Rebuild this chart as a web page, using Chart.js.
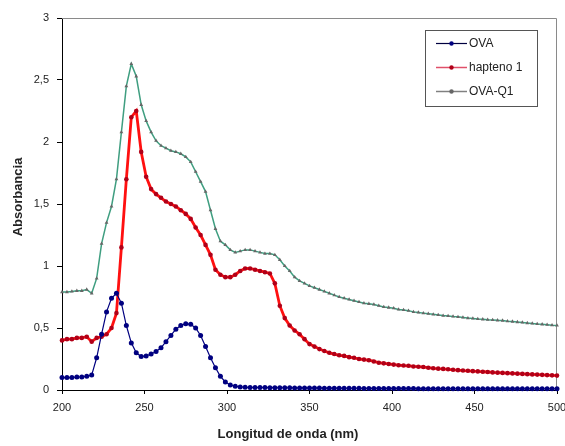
<!DOCTYPE html>
<html><head><meta charset="utf-8">
<script src="https://cdn.jsdelivr.net/npm/chart.js@4.4.1/dist/chart.umd.min.js"></script>
<style>html,body{margin:0;padding:0;background:#fff}#wrap{width:565px;height:446px;position:relative}</style>
</head><body><div id="wrap"><canvas id="c" width="565" height="446" style="width:565px;height:446px"></canvas></div>
<script>
const wavelengths = [200,203,206,209,212,215,218,221,224,227,230,233,236,239,242,245,248,251,254,257,
260,263,266,269,272,275,278,281,284,287,290,293,296,299,302,305,308,311,314,317,
320,323,326,329,332,335,338,341,344,347,350,353,356,359,362,365,368,371,374,377,
380,383,386,389,392,395,398,401,404,407,410,413,416,419,422,425,428,431,434,437,
440,443,446,449,452,455,458,461,464,467,470,473,476,479,482,485,488,491,494,497,500];

const ova = [0.10,0.10,0.10,0.105,0.105,0.11,0.12,0.26,0.45,0.63,
0.74,0.78,0.70,0.52,0.38,0.30,0.27,0.275,0.29,0.31,
0.34,0.39,0.44,0.49,0.52,0.535,0.53,0.50,0.44,0.35,
0.26,0.18,0.11,0.065,0.04,0.03,0.025,0.022,0.02,0.02,
0.02,0.02,0.019,0.019,0.018,0.018,0.018,0.017,0.017,0.017,
0.016,0.016,0.016,0.015,0.015,0.015,0.015,0.014,0.014,0.014,
0.014,0.013,0.013,0.013,0.013,0.013,0.012,0.012,0.012,0.012,
0.012,0.012,0.011,0.011,0.011,0.011,0.011,0.011,0.011,0.010,
0.010,0.010,0.010,0.010,0.010,0.010,0.010,0.010,0.010,0.010,
0.010,0.010,0.010,0.010,0.010,0.010,0.010,0.010,0.010,0.010,0.010];

const hapteno1 = [0.40,0.41,0.41,0.42,0.42,0.43,0.39,0.42,0.43,0.45,
0.50,0.62,1.15,1.70,2.20,2.25,1.92,1.72,1.62,1.58,
1.55,1.52,1.50,1.48,1.45,1.42,1.38,1.31,1.25,1.17,
1.09,0.97,0.93,0.91,0.91,0.93,0.96,0.98,0.98,0.97,
0.96,0.95,0.94,0.86,0.68,0.58,0.52,0.48,0.45,0.41,
0.37,0.35,0.33,0.315,0.30,0.29,0.28,0.275,0.265,0.26,
0.25,0.245,0.24,0.23,0.22,0.215,0.21,0.205,0.20,0.197,
0.195,0.19,0.188,0.185,0.18,0.175,0.172,0.17,0.167,0.163,
0.16,0.157,0.155,0.152,0.15,0.147,0.145,0.142,0.14,0.138,
0.136,0.134,0.132,0.13,0.128,0.126,0.124,0.122,0.12,0.118,0.116];

const ovaQ1 = [0.79,0.79,0.795,0.80,0.80,0.81,0.78,0.90,1.18,1.35,
1.48,1.70,2.08,2.45,2.63,2.53,2.30,2.17,2.08,2.01,
1.97,1.95,1.93,1.92,1.905,1.88,1.84,1.76,1.68,1.60,
1.45,1.30,1.20,1.17,1.13,1.11,1.12,1.13,1.13,1.12,
1.11,1.10,1.10,1.09,1.05,1.00,0.96,0.91,0.88,0.86,
0.84,0.825,0.81,0.795,0.78,0.765,0.75,0.74,0.73,0.72,
0.71,0.70,0.695,0.69,0.68,0.67,0.665,0.66,0.65,0.645,
0.64,0.63,0.625,0.62,0.615,0.61,0.605,0.60,0.597,0.593,
0.59,0.585,0.58,0.577,0.573,0.57,0.567,0.565,0.562,0.56,
0.555,0.552,0.548,0.545,0.54,0.537,0.533,0.53,0.527,0.523,0.52];

const seriesNames = ['OVA','hapteno 1','OVA-Q1'];
const xTitle = 'Longitud de onda (nm)';
const yTitle = 'Absorbancia';

function pts(vals){ return wavelengths.map((w,i)=>({x:w,y:vals[i]})); }

const FONT = '"Liberation Sans", Arial, sans-serif';

const decor = {
  id:'decor',
  beforeDatasetsDraw(chart){
    const {ctx, chartArea:a} = chart;
    ctx.save();
    ctx.strokeStyle = '#8a8a8a'; ctx.lineWidth = 1;
    ctx.beginPath();
    ctx.moveTo(a.left, a.top+0.5); ctx.lineTo(a.right-0.5, a.top+0.5); ctx.lineTo(a.right-0.5, a.bottom);
    ctx.stroke();
    ctx.restore();
  },
  afterDraw(chart){
    const {ctx} = chart;
    ctx.save();
    ctx.fillStyle = '#222';
    ctx.font = 'bold 13px ' + FONT;
    ctx.textAlign = 'center'; ctx.textBaseline = 'middle';
    ctx.fillText(xTitle, 288, 434);
    ctx.translate(18, 197); ctx.rotate(-Math.PI/2);
    ctx.fillText(yTitle, 0, 0);
    ctx.restore();
    ctx.save();
    ctx.fillStyle = '#fff';
    ctx.fillRect(425, 30, 112, 76);
    ctx.strokeStyle = '#555'; ctx.lineWidth = 1;
    ctx.strokeRect(425.5, 30.5, 112, 76);
    const ys = [43, 67, 91];
    chart.data.datasets.forEach((ds, i) => {
      const y = ys[i];
      ctx.strokeStyle = ds.legendLine; ctx.lineWidth = Math.min(ds.borderWidth, 1.5);
      ctx.beginPath(); ctx.moveTo(436, y+0.5); ctx.lineTo(467, y+0.5); ctx.stroke();
      ctx.fillStyle = ds.pointBackgroundColor;
      ctx.beginPath(); ctx.arc(451.5, y+0.5, 2.2, 0, Math.PI*2); ctx.fill();
      ctx.fillStyle = '#222';
      ctx.font = '12px ' + FONT;
      ctx.textAlign = 'left'; ctx.textBaseline = 'middle';
      ctx.fillText(ds.label, 469, y+1);
    });
    ctx.restore();
  }
};

new Chart(document.getElementById('c'), {
  type:'line',
  data:{
    datasets:[
      {label:seriesNames[0], data:pts(ova), borderColor:'#000080', backgroundColor:'#000080', legendLine:'#000040',
       borderWidth:1.2, pointRadius:2.5, pointBorderWidth:0, pointBackgroundColor:'#000080', tension:0, clip:4},
      {label:seriesNames[1], data:pts(hapteno1), borderColor:'#ff1010', backgroundColor:'#ff1010', legendLine:'#e0506a',
       borderWidth:2.8, pointRadius:2.3, pointBorderWidth:0, pointBackgroundColor:'#b00018', tension:0, clip:4},
      {label:seriesNames[2], data:pts(ovaQ1), borderColor:'#3f9e80', backgroundColor:'#3f9e80', legendLine:'#808080',
       borderWidth:1.5, pointRadius:2.2, pointBorderWidth:0, pointBackgroundColor:'#666666', pointStyle:'triangle', tension:0, clip:4}
    ]
  },
  options:{
    responsive:false, animation:false, devicePixelRatio:1,
    layout:{padding:{top:18,right:8,left:0,bottom:0}},
    plugins:{legend:{display:false}, tooltip:{enabled:false}},
    scales:{
      x:{type:'linear', min:200, max:500,
         afterFit(s){ s.height = 56; s.paddingLeft = 0; s.paddingRight = 0; },
         ticks:{stepSize:50, color:'#222', font:{family:FONT, size:11}, padding:7, maxRotation:0},
         grid:{display:true, drawOnChartArea:false, drawTicks:true, tickLength:4, color:'#000'},
         border:{display:true, color:'#000', width:1}},
      y:{min:0, max:3,
         afterFit(s){ s.width = 62; s.paddingTop = 0; s.paddingBottom = 0; },
         ticks:{stepSize:0.5, color:'#222', font:{family:FONT, size:11}, padding:8,
                callback:v => String(v).replace('.', ',')},
         grid:{display:true, drawOnChartArea:false, drawTicks:true, tickLength:5, color:'#000'},
         border:{display:true, color:'#000', width:1}}
    }
  },
  plugins:[decor]
});
</script>
</body></html>
